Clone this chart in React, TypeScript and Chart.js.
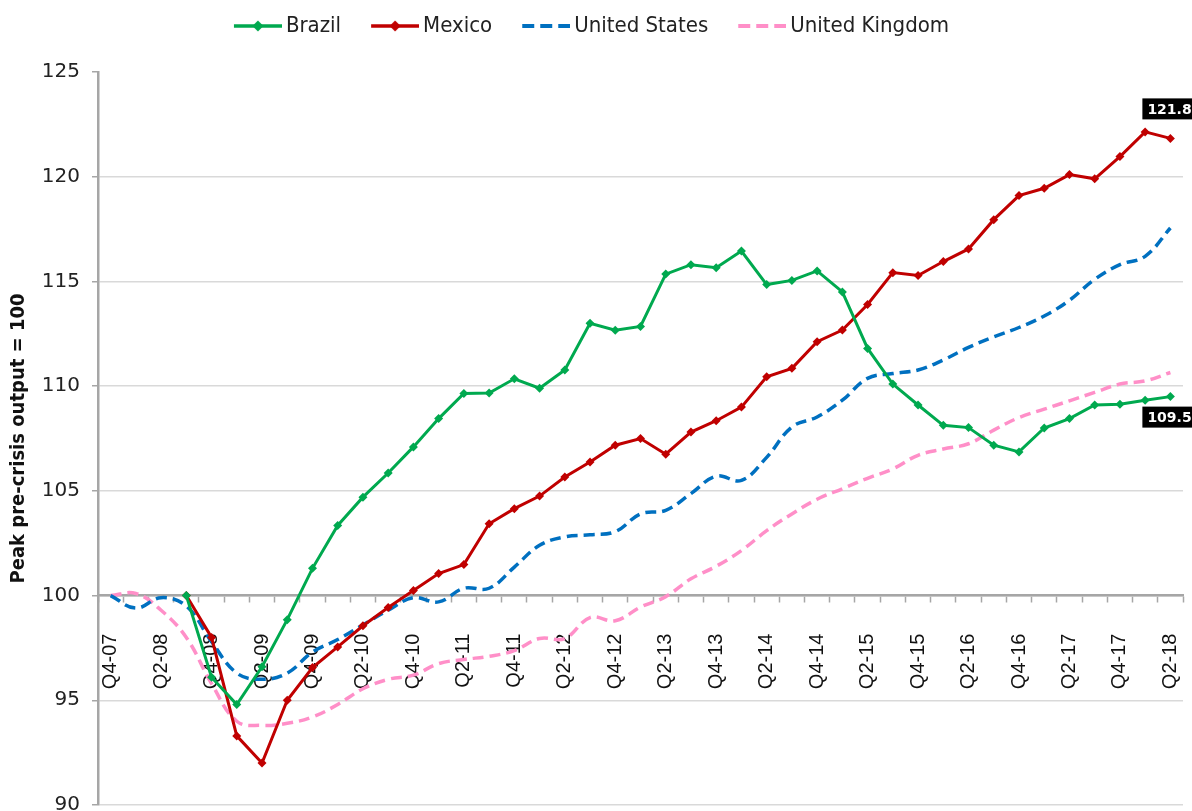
import React, { useEffect, useRef } from "react";
import { Chart, registerables } from "chart.js";

Chart.register(...registerables);

const quarters = [
  "Q4-07", "Q1-08", "Q2-08", "Q3-08", "Q4-08", "Q1-09", "Q2-09", "Q3-09", "Q4-09",
  "Q1-10", "Q2-10", "Q3-10", "Q4-10", "Q1-11", "Q2-11", "Q3-11", "Q4-11",
  "Q1-12", "Q2-12", "Q3-12", "Q4-12", "Q1-13", "Q2-13", "Q3-13", "Q4-13",
  "Q1-14", "Q2-14", "Q3-14", "Q4-14", "Q1-15", "Q2-15", "Q3-15", "Q4-15",
  "Q1-16", "Q2-16", "Q3-16", "Q4-16", "Q1-17", "Q2-17", "Q3-17", "Q4-17",
  "Q1-18", "Q2-18",
];

const brazil = [
  null, null, null, 100, 96.1, 94.8, 96.6, 98.85, 101.3, 103.35, 104.7, 105.85, 107.1,
  108.45, 109.65, 109.67, 110.35, 109.9, 110.77, 113.0, 112.67, 112.85, 115.35, 115.8,
  115.65, 116.45, 114.85, 115.05, 115.5, 114.5, 111.8, 110.1, 109.1, 108.13, 108.02,
  107.18, 106.86, 108.0, 108.45, 109.1, 109.14, 109.33, 109.5,
];

const mexico = [
  null, null, null, 100, 98.0, 93.3, 92.0, 95.0, 96.56, 97.55, 98.56, 99.43, 100.24,
  101.05, 101.48, 103.43, 104.15, 104.75, 105.66, 106.38, 107.18, 107.5, 106.75, 107.81,
  108.35, 109.0, 110.45, 110.85, 112.12, 112.68, 113.9, 115.42, 115.28, 115.95, 116.55,
  117.95, 119.1, 119.45, 120.1, 119.9, 120.96, 122.14, 121.83,
];

const unitedStates = [
  100, 99.4, 99.9, 99.5, 97.8, 96.3, 96.0, 96.3, 97.3, 97.9, 98.6, 99.3, 99.9, 99.7,
  100.35, 100.35, 101.36, 102.4, 102.8, 102.9, 103.05, 103.9, 104.07, 104.87, 105.7,
  105.5, 106.6, 108.05, 108.53, 109.33, 110.37, 110.6, 110.77, 111.25, 111.85, 112.35,
  112.8, 113.35, 114.1, 115.1, 115.8, 116.2, 117.55,
];

const unitedKingdom = [
  100, 100.1, 99.3, 98.0, 95.8, 94.0, 93.8, 93.9, 94.2, 94.8, 95.55, 96.0, 96.2, 96.75,
  96.95, 97.1, 97.37, 97.95, 97.95, 98.95, 98.8, 99.45, 99.95, 100.8, 101.4, 102.15,
  103.1, 103.9, 104.6, 105.1, 105.6, 106.05, 106.7, 107.0, 107.25, 107.9, 108.5, 108.9,
  109.3, 109.7, 110.1, 110.25, 110.65,
];

const seriesNames = ["Brazil", "Mexico", "United States", "United Kingdom"];
const seriesColors = ["#00A94F", "#C00000", "#0070C0", "#FF8FC8"];
const yMin = 90;
const yMax = 125;
const yStep = 5;
const yTitle = "Peak pre-crisis output = 100";

function legendImage(color: string, dashed: boolean, marker: boolean) {
  const c = document.createElement("canvas");
  c.width = 77;
  c.height = 14;
  const g = c.getContext("2d")!;
  g.strokeStyle = color;
  g.lineWidth = dashed ? 4 : 3.5;
  if (dashed) g.setLineDash([12, 6]);
  g.beginPath();
  g.moveTo(29, 7);
  g.lineTo(77, 7);
  g.stroke();
  if (marker) {
    g.fillStyle = color;
    g.beginPath();
    g.moveTo(53, 1.5);
    g.lineTo(58.5, 7);
    g.lineTo(53, 12.5);
    g.lineTo(47.5, 7);
    g.closePath();
    g.fill();
  }
  return c;
}

const legendSpacer = {
  id: "legendSpacer",
  beforeInit(chart: any) {
    const legend = chart.legend;
    if (!legend) return;
    const fit = legend.fit;
    legend.fit = function () {
      fit.call(this);
      this.height += 25;
    };
  },
  afterLayout(chart: any) {
    if (chart.legend) chart.legend.left -= 22;
  },
};

const valueLabels = {
  id: "valueLabels",
  afterDatasetsDraw(chart: any) {
    const ctx = chart.ctx;
    const draw = (dsIndex: number, above: boolean) => {
      const meta = chart.getDatasetMeta(dsIndex);
      const pt = meta.data[meta.data.length - 1];
      const ds = chart.data.datasets[dsIndex];
      const v = ds.data[ds.data.length - 1] as number;
      const text = v.toFixed(1);
      ctx.save();
      ctx.font = 'bold 14px "DejaVu Sans"';
      const w = ctx.measureText(text).width + 10;
      const h = 21;
      const left = pt.x - 28;
      const top = above ? pt.y - 40 : pt.y + 10;
      ctx.fillStyle = "#000";
      ctx.fillRect(left, top, w, h);
      ctx.fillStyle = "#fff";
      ctx.textBaseline = "middle";
      ctx.fillText(text, left + 5, top + h / 2 + 1);
      ctx.restore();
    };
    draw(1, true);
    draw(0, false);
  },
};

export default function App() {
  const ref = useRef<HTMLCanvasElement>(null);

  useEffect(() => {
    const canvas = ref.current;
    if (!canvas) return;
    const imgs = [
      legendImage(seriesColors[0], false, true),
      legendImage(seriesColors[1], false, true),
      legendImage(seriesColors[2], true, false),
      legendImage(seriesColors[3], true, false),
    ];
    const series = [brazil, mexico, unitedStates, unitedKingdom];
    const datasets = series.map((d, i) => {
      const dashed = i >= 2;
      return {
        label: seriesNames[i],
        data: d,
        borderColor: seriesColors[i],
        backgroundColor: seriesColors[i],
        borderWidth: dashed ? 3.5 : 3,
        borderDash: dashed ? [11, 6] : [],
        pointRadius: dashed ? 0 : 4.5,
        pointStyle: "rectRot",
        pointBackgroundColor: seriesColors[i],
        pointBorderColor: seriesColors[i],
        pointBorderWidth: 0,
        tension: dashed ? 0.4 : 0,
        fill: false,
      };
    });

    const chart = new Chart(canvas, {
      type: "line",
      data: { labels: quarters, datasets: datasets as any },
      options: {
        animation: false,
        responsive: true,
        maintainAspectRatio: false,
        layout: { padding: { left: 0, right: 9, top: 7, bottom: 6 } },
        plugins: {
          tooltip: { enabled: false },
          legend: {
            position: "top",
            labels: {
              usePointStyle: true,
              pointStyleWidth: 63,
              padding: 8,
              color: "#222",
              font: { family: "'DejaVu Sans Condensed', 'DejaVu Sans'", size: 22 },
              generateLabels: (c: any) =>
                c.data.datasets.map((ds: any, i: number) => ({
                  text: ds.label,
                  pointStyle: imgs[i],
                  fillStyle: "rgba(0,0,0,0)",
                  strokeStyle: "rgba(0,0,0,0)",
                  lineWidth: 0,
                  hidden: false,
                  datasetIndex: i,
                  fontColor: "#222",
                })),
            },
          },
        },
        scales: {
          x: {
            type: "category",
            position: { y: 100 } as any,
            offset: true,
            afterFit: (s: any) => {
              s.paddingLeft = 0;
              s.paddingRight = 0;
            },
            grid: {
              display: true,
              drawOnChartArea: false,
              drawTicks: true,
              tickLength: 6,
              tickColor: "#a6a6a6",
              tickWidth: 1.5,
              offset: true,
            },
            border: { display: true, color: "#a6a6a6", width: 2.5 },
            ticks: {
              autoSkip: false,
              minRotation: 90,
              maxRotation: 90,
              padding: 32,
              color: "#111",
              font: { family: "'Liberation Sans', Arial", size: 20 },
              callback: (_v: any, i: number) => (i % 2 === 0 ? quarters[i] : ""),
            },
          },
          y: {
            min: yMin,
            max: yMax,
            afterFit: (s: any) => {
              s.width = 98;
              s.paddingTop = 0;
              s.paddingBottom = 0;
            },
            ticks: {
              stepSize: yStep,
              padding: 12,
              color: "#222",
              font: { family: "'DejaVu Sans'", size: 20 },
            },
            grid: {
              color: (c: any) =>
                c.tick && c.tick.value === yMax ? "rgba(0,0,0,0)" : "#d9d9d9",
              lineWidth: 1.5,
              tickLength: 6,
              tickColor: "#a6a6a6",
            },
            border: { display: true, color: "#a6a6a6", width: 2.5 },
            title: {
              display: true,
              text: yTitle,
              color: "#111",
              font: { family: "'DejaVu Sans Condensed', 'DejaVu Sans'", size: 20, weight: "bold" },
              padding: { top: 7, bottom: 0 },
            },
          },
        },
      },
      plugins: [legendSpacer, valueLabels],
    });
    return () => chart.destroy();
  }, []);

  return (
    <div style={{ position: "fixed", left: 0, top: 0, width: 1192, height: 811 }}>
      <canvas ref={ref} />
    </div>
  );
}
